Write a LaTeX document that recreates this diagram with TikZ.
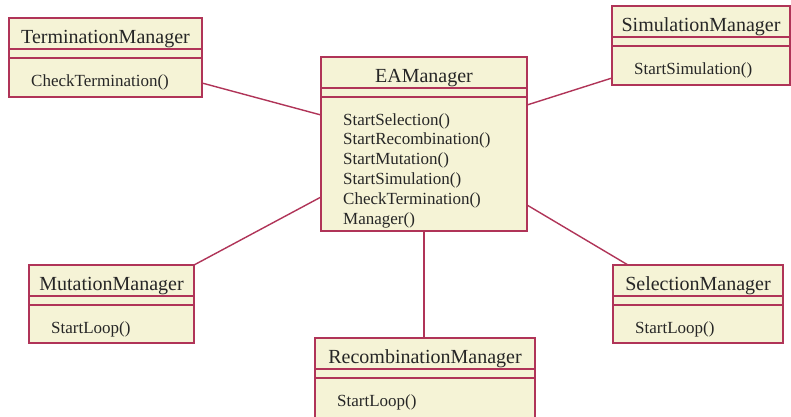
\documentclass[tikz,border=0pt]{standalone}
\usepackage{fontspec}
\setmainfont{Liberation Serif}
\definecolor{umlborder}{HTML}{B03458}
\definecolor{umlfill}{HTML}{F5F3D6}
\definecolor{umltext}{HTML}{262626}
\tikzset{
  classbox/.style={draw=umlborder, fill=umlfill, line width=1.4pt, inner sep=0pt, outer sep=0pt, anchor=north west},
  divider/.style={draw=umlborder, line width=1.4pt},
  titletext/.style={font=\fontsize{20}{24}\selectfont, text=umltext, inner sep=0pt, anchor=base},
  methtext/.style={font=\fontsize{17}{19.8}\selectfont, text=umltext, inner sep=0pt, anchor=base west},
  assoc/.style={draw=umlborder, line width=1.4pt},
}
% name, left, top, right, bottom, title, operations
\newcommand{\umlclass}[7]{%
  \node[classbox, minimum width={#4pt-#2pt}, minimum height={#5pt-#3pt}] (#1) at (#2,#3) {};
  \draw[divider] ([yshift=-31pt]#1.north west) -- ([yshift=-31pt]#1.north east);
  \draw[divider] ([yshift=-40pt]#1.north west) -- ([yshift=-40pt]#1.north east);
  \node[titletext] (#1-title) at ([yshift=-25pt]#1.north) {#6};
  \node[methtext] (#1-ops) at ([xshift=22pt,yshift=-68pt]#1.north west) {\begin{tabular}[t]{@{}l@{}}#7\end{tabular}};
}
\begin{document}
\begin{tikzpicture}[x=1pt,y=-1pt]
  \useasboundingbox[fill=white] (0,0) rectangle (791,416);
  \umlclass{term}{9}{18}{202}{97}{TerminationManager}{CheckTermination()}
  \umlclass{ea}{321}{57}{527}{231}{EAManager}{StartSelection()\\StartRecombination()\\StartMutation()\\StartSimulation()\\CheckTermination()\\Manager()}
  \umlclass{sim}{612}{6}{790}{85}{SimulationManager}{StartSimulation()}
  \umlclass{mut}{29}{265}{194}{343}{MutationManager}{StartLoop()}
  \umlclass{rec}{315}{338}{535}{422}{RecombinationManager}{StartLoop()}
  \umlclass{sel}{613}{265}{783}{343}{SelectionManager}{StartLoop()}
  \draw[assoc] ([yshift=-25.5pt]term.east) -- ([yshift=29pt]ea.west);
  \draw[assoc] ([yshift=39pt]ea.east) -- ([yshift=-32.5pt]sim.west);
  \draw[assoc] (mut.north east) -- ([yshift=-53pt]ea.west);
  \draw[assoc] ([yshift=-61pt]ea.east) -- ([xshift=15pt]sel.north west);
  \draw[assoc] (ea.south) -- (ea.south |- rec.north);
\end{tikzpicture}
\end{document}
